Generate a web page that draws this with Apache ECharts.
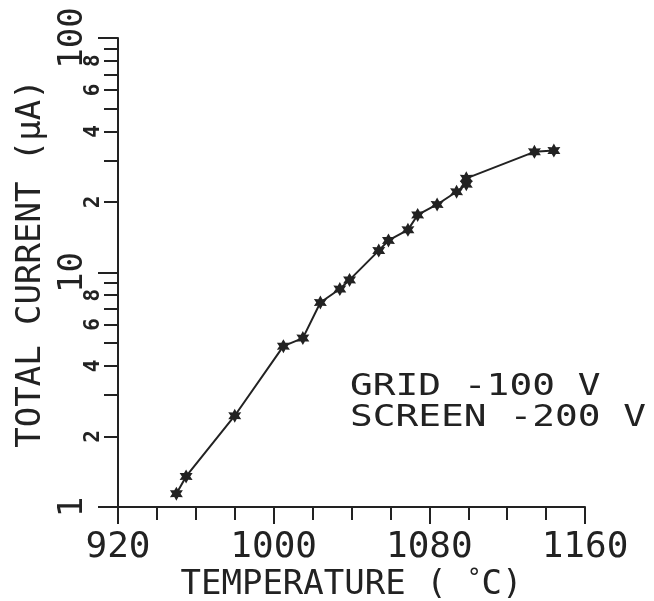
<!DOCTYPE html>
<html>
<head>
<meta charset="utf-8">
<script src="https://cdn.jsdelivr.net/npm/echarts@6/dist/echarts.min.js"></script>
<style>
html, body { margin: 0; background: #fff; }
#main { width: 654px; height: 601px; }
</style>
</head>
<body>
<div id="main"></div>
<script>
// temperature (deg C) and total current (uA)
var temperature = [950, 955, 980, 1005, 1015, 1024, 1034, 1039, 1054, 1059, 1069, 1074, 1084, 1094, 1099, 1099, 1134, 1144];
var current = [1.14, 1.35, 2.45, 4.85, 5.25, 7.45, 8.5, 9.3, 12.4, 13.7, 15.2, 17.6, 19.5, 22.1, 23.8, 25.2, 32.7, 33.1];

var yMajor = [1, 10, 100];
var yMinorTicks = [2, 3, 4, 5, 6, 7, 8, 9, 20, 30, 40, 50, 60, 70, 80, 90];
var yMinorLabels = [2, 4, 6, 8, 20, 40, 60, 80];
var notes = ["GRID -100 V", "SCREEN -200 V"];

var ink = "#222";
var mono = '"DejaVu Sans Mono", "Liberation Mono", monospace';
var star = "path://M50 0L63.75 26.2L93.3 25L77.5 50L93.3 75L63.75 73.8L50 100L36.25 73.8L6.7 75L22.5 50L6.7 25L36.25 26.2Z";

var points = [];
for (var i = 0; i < temperature.length; i++) {
    points.push([temperature[i], current[i]]);
}

var chart = echarts.init(document.getElementById("main"));
chart.setOption({
    animation: false,
    backgroundColor: "#fff",
    grid: { left: 118, right: 69, top: 38, bottom: 94, outerBoundsMode: "none", containLabel: false },
    xAxis: {
        type: "value",
        min: 920,
        max: 1160,
        interval: 80,
        name: "{a|TEMPERATURE ( }{s|°}{a|C)}",
        nameLocation: "middle",
        nameGap: 61,
        nameMoveOverlap: false,
        nameTextStyle: {
            rich: {
                a: { fontFamily: mono, fontSize: 34, color: ink },
                s: { fontFamily: mono, fontSize: 24, color: ink, verticalAlign: "top" }
            }
        },
        axisLine: { lineStyle: { color: ink, width: 2 } },
        axisTick: { length: 17, lineStyle: { color: ink, width: 2 } },
        minorTick: { show: true, splitNumber: 4, length: 13, lineStyle: { color: ink, width: 2 } },
        axisLabel: {
            fontFamily: mono,
            fontSize: 36,
            color: ink,
            margin: 23,
            formatter: function (v) { return String(v); }
        },
        splitLine: { show: false }
    },
    yAxis: [{
        type: "log",
        logBase: 10,
        min: 1,
        max: 100,
        position: "left",
        axisLine: { lineStyle: { color: ink, width: 2 } },
        axisTick: { customValues: yMinorTicks, length: 14, lineStyle: { color: ink, width: 2 } },
        axisLabel: {
            customValues: yMinorLabels,
            rotate: 90,
            fontFamily: mono,
            fontSize: 21,
            fontWeight: "bold",
            color: ink,
            margin: 14,
            formatter: function (v) { return String(Math.round(v)).charAt(0); }
        },
        splitLine: { show: false }
    }, {
        type: "log",
        logBase: 10,
        min: 1,
        max: 100,
        position: "left",
        name: "TOTAL CURRENT (μA)",
        nameLocation: "middle",
        nameGap: 70,
        nameRotate: 90,
        nameMoveOverlap: false,
        nameTextStyle: { fontFamily: mono, fontSize: 34, color: ink, padding: [0, 0, 0, 18] },
        axisLine: { show: false },
        axisTick: { customValues: yMajor, length: 20, lineStyle: { color: ink, width: 2 } },
        axisLabel: {
            customValues: yMajor,
            rotate: 90,
            fontFamily: mono,
            fontSize: 34,
            color: ink,
            margin: 28,
            formatter: function (v) { return String(Math.round(v)); }
        },
        splitLine: { show: false }
    }],
    graphic: [{
        type: "text",
        x: 350,
        y: 371,
        scaleX: 1.22,
        style: {
            text: notes.join("\n"),
            font: "31px " + mono,
            fill: ink,
            lineHeight: 31.5
        }
    }],
    series: [{
        type: "line",
        yAxisIndex: 0,
        data: points,
        symbol: star,
        symbolSize: [13, 14],
        itemStyle: { color: ink },
        lineStyle: { color: ink, width: 2 }
    }]
});
</script>
</body>
</html>
